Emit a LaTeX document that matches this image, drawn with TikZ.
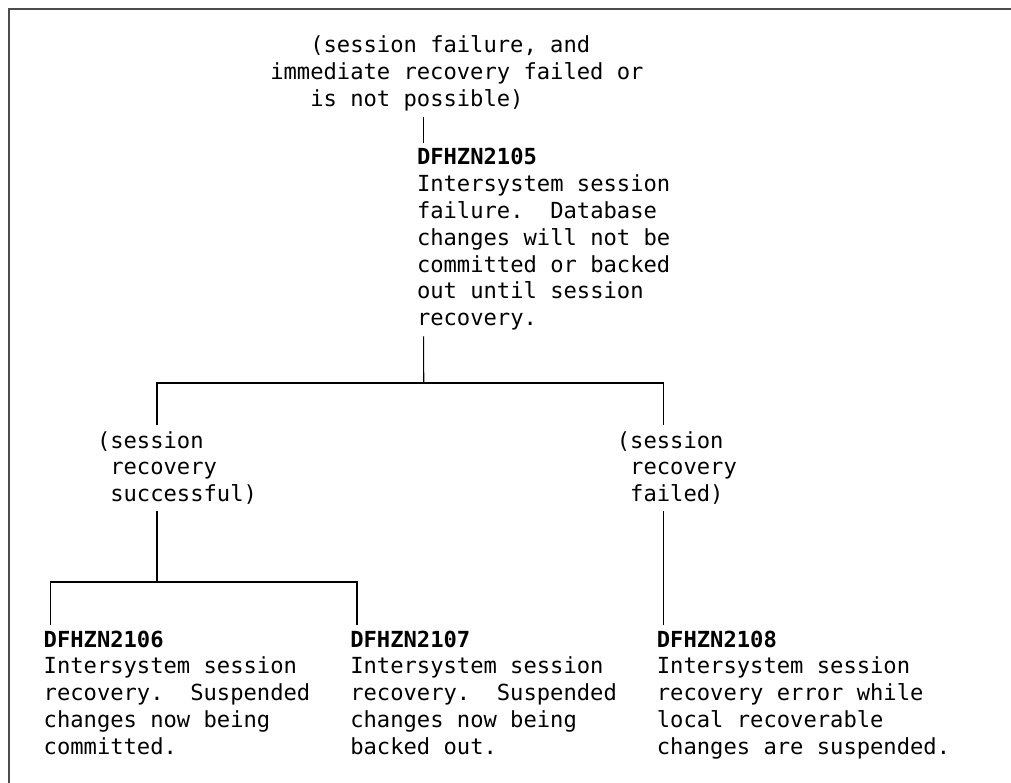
\documentclass[tikz,border=0pt]{standalone}
\usepackage{fontspec}
\setmonofont{DejaVu Sans Mono}
\newlength{\cw}
\setlength{\cw}{13.33pt}
\begin{document}
\frenchspacing
\begin{tikzpicture}[x=1pt,y=-1pt,
    txt/.style={anchor=base west,align=left,inner sep=0pt,outer xsep=0pt,outer ysep=6pt,
      font=\ttfamily\fontsize{22.14}{26.8}\selectfont},
    msgid/.style={txt,font=\ttfamily\bfseries\fontsize{22.14}{26.8}\selectfont,
      text height=16pt,text depth=5pt},
    link/.style={line width=1.1pt,black}]
  \useasboundingbox (0,0) rectangle (1011,783);
  \draw[line width=2pt,black!70] (9,783) -- (9,9) -- (1011,9);

  % text blocks sit on the baseline of their last line
  \node[txt] (cause) at (270.3,106.6) {\hspace*{3\cw}(session failure, and\\
    immediate recovery failed or\\\hspace*{3\cw}is not possible)};
  \node[msgid] (id2105) at (417,165) {DFHZN2105};
  \node[txt] (txt2105) at (417,325.8) {Intersystem session\\failure.\ \ Database\\
    changes will not be\\committed or backed\\out until session\\recovery.};

  \node[txt] (okcase) at (97,501.6) {(session\\\hspace*{\cw}recovery\\\hspace*{\cw}successful)};
  \node[txt] (failcase) at (616.9,501.6) {(session\\\hspace*{\cw}recovery\\\hspace*{\cw}failed)};

  \node[msgid] (id2106) at (43.7,647) {DFHZN2106};
  \node[txt] (txt2106) at (43.7,754.2) {Intersystem session\\recovery.\ \ Suspended\\
    changes now being\\committed.};
  \node[msgid] (id2107) at (350.3,647) {DFHZN2107};
  \node[txt] (txt2107) at (350.3,754.2) {Intersystem session\\recovery.\ \ Suspended\\
    changes now being\\backed out.};
  \node[msgid] (id2108) at (656.9,647) {DFHZN2108};
  \node[txt] (txt2108) at (656.9,754.2) {Intersystem session\\recovery error while\\
    local recoverable\\changes are suspended.};

  \coordinate (split) at (423.7,383);
  \coordinate (merge) at (157,582);

  \draw[link] ([xshift=6.67pt]id2105.north west) -- ([xshift=6.67pt]id2105.north west |- cause.south);
  \draw[link] ([xshift=6.67pt]txt2105.south west) -- (split);
  \draw[link] ([xshift=60pt]okcase.north west) |- (split) -| ([xshift=46.67pt]failcase.north west);
  \draw[link] ([xshift=60pt]okcase.south west) -- (merge);
  \draw[link] ([xshift=6.67pt]id2106.north west) |- (merge) -| ([xshift=6.67pt]id2107.north west);
  \draw[link] ([xshift=46.67pt]failcase.south west) -- ([xshift=6.67pt]id2108.north west);
\end{tikzpicture}
\end{document}
